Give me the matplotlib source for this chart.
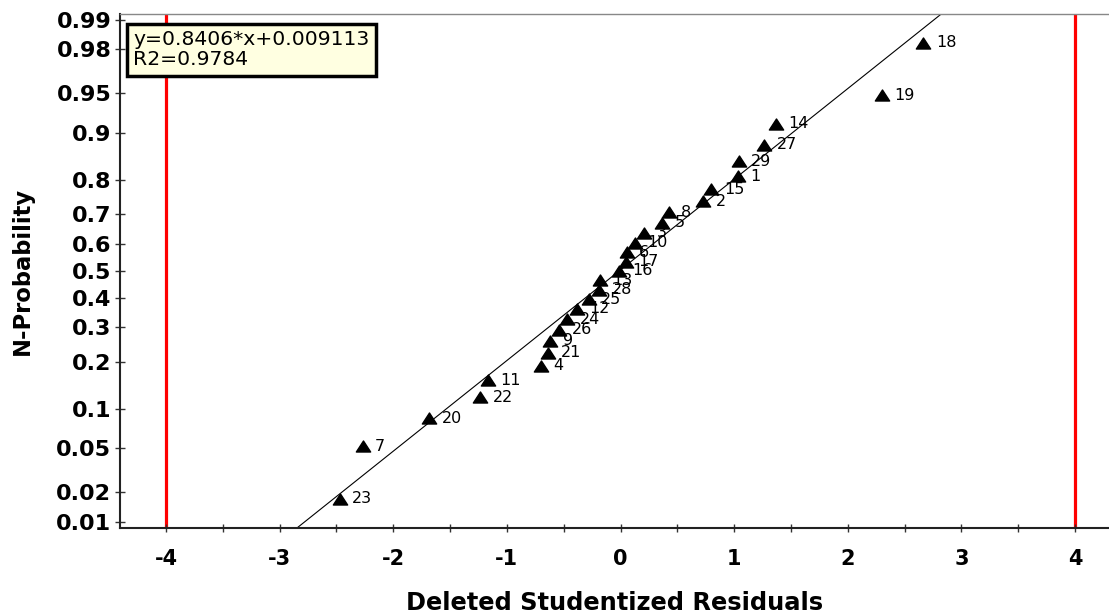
from statistics import NormalDist

import matplotlib

matplotlib.use("Agg")

import matplotlib.pyplot as plt
import numpy as np
from matplotlib.path import Path as MarkerPath


OUTPUT = "out.png"

# Deleted studentized residuals, listed by observation number 1..29
OBSERVATIONS = list(range(1, 30))
RESIDUALS = [
    1.035, 0.73, 0.205, -0.70, 0.365, 0.055, -2.27, 0.425, -0.62, 0.125,
    -1.17, -0.385, -0.18, 1.365, 0.80, -0.01, 0.045, 2.665, 2.30, -1.685,
    -0.635, -1.235, -2.47, -0.47, -0.28, -0.54, 1.265, -0.19, 1.04,
]

FIT_SLOPE = 0.8406
FIT_INTERCEPT = 0.009113
FIT_R2 = 0.9784
CONTROL_LIMITS = [-4.0, 4.0]

PROB_TICKS = [0.01, 0.02, 0.05, 0.1, 0.2, 0.3, 0.4, 0.5, 0.6, 0.7, 0.8, 0.9, 0.95, 0.98, 0.99]
PROB_LABELS = ["0.01", "0.02", "0.05", "0.1", "0.2", "0.3", "0.4", "0.5",
               "0.6", "0.7", "0.8", "0.9", "0.95", "0.98", "0.99"]
X_TICKS = [-4, -3, -2, -1, 0, 1, 2, 3, 4]
X_MINOR_TICKS = [-3.5, -2.5, -1.5, -0.5, 0.5, 1.5, 2.5, 3.5]

_normal = NormalDist()


def probit(p):
    p = np.clip(np.asarray(p, dtype=float), 1e-9, 1 - 1e-9)
    return np.vectorize(_normal.inv_cdf, otypes=[float])(p)


def inverse_probit(z):
    return np.vectorize(_normal.cdf, otypes=[float])(np.asarray(z, dtype=float))


def plotting_positions(values):
    order = np.argsort(values, kind="stable")
    ranks = np.empty(len(values), dtype=float)
    ranks[order] = np.arange(1, len(values) + 1)
    return (ranks - 0.5) / len(values)


def build_figure():
    fig = plt.figure(figsize=(11.09, 6.16), dpi=100)
    ax = fig.add_axes([0.1082, 0.1433, 0.8918, 0.834])
    ax.set_yscale("function", functions=(probit, inverse_probit))

    residuals = np.asarray(RESIDUALS)
    probs = plotting_positions(residuals)

    # fitted line, straight on the probit axis
    x_line = np.linspace(-4.5, 4.5, 400)
    ax.plot(x_line, inverse_probit(FIT_SLOPE * x_line + FIT_INTERCEPT),
            color="black", linewidth=0.8, zorder=2)

    for limit in CONTROL_LIMITS:
        ax.axvline(limit, color="#ff0000", linewidth=2.3, zorder=1)

    triangle = MarkerPath([(0, 0.77), (-1, -0.77), (1, -0.77), (0, 0.77)], closed=True)
    ax.plot(residuals, probs, linestyle="none", marker=triangle, markersize=10.3,
            color="black", zorder=3)
    for obs, x, p in zip(OBSERVATIONS, residuals, probs):
        ax.annotate(str(obs), (x, p), xytext=(9, 0), textcoords="offset points",
                    ha="left", va="center", fontsize=11.5, zorder=4)

    ax.text(0.0135, 0.969,
            f"y={FIT_SLOPE}*x+{FIT_INTERCEPT}\nR2={FIT_R2}",
            transform=ax.transAxes, ha="left", va="top", fontsize=14.7,
            linespacing=1.1, zorder=5,
            bbox=dict(boxstyle="square,pad=0.3", facecolor="#ffffe1",
                      edgecolor="black", linewidth=2.5))

    ax.set_xlim(-4.405, 4.299)
    ax.set_ylim(0.00861, 0.99139)

    ax.set_xticks(X_TICKS)
    ax.set_xticks(X_MINOR_TICKS, minor=True)
    ax.set_xticklabels([str(t) for t in X_TICKS], fontsize=15, fontweight="bold")
    ax.set_yticks(PROB_TICKS)
    ax.set_yticklabels(PROB_LABELS, fontsize=16, fontweight="bold")
    ax.yaxis.set_minor_locator(matplotlib.ticker.NullLocator())

    ax.tick_params(axis="x", which="both", direction="inout", length=6,
                   width=1.0, color="#333333", pad=12)
    ax.tick_params(axis="y", which="both", direction="inout", length=6.5,
                   width=1.0, color="#333333", pad=3)

    for side in ("left", "bottom"):
        ax.spines[side].set_linewidth(1.5)
        ax.spines[side].set_color("#222222")
    ax.spines["top"].set_color("#888888")
    ax.spines["top"].set_linewidth(1.0)
    ax.spines["right"].set_visible(False)

    ax.set_xlabel("Deleted Studentized Residuals", fontsize=17.4, fontweight="bold",
                  labelpad=16)
    ax.set_ylabel("N-Probability", fontsize=16.3, fontweight="bold", labelpad=16)
    return fig


def main():
    fig = build_figure()
    fig.savefig(OUTPUT, dpi=100)
    plt.close(fig)


if __name__ == "__main__":
    main()
